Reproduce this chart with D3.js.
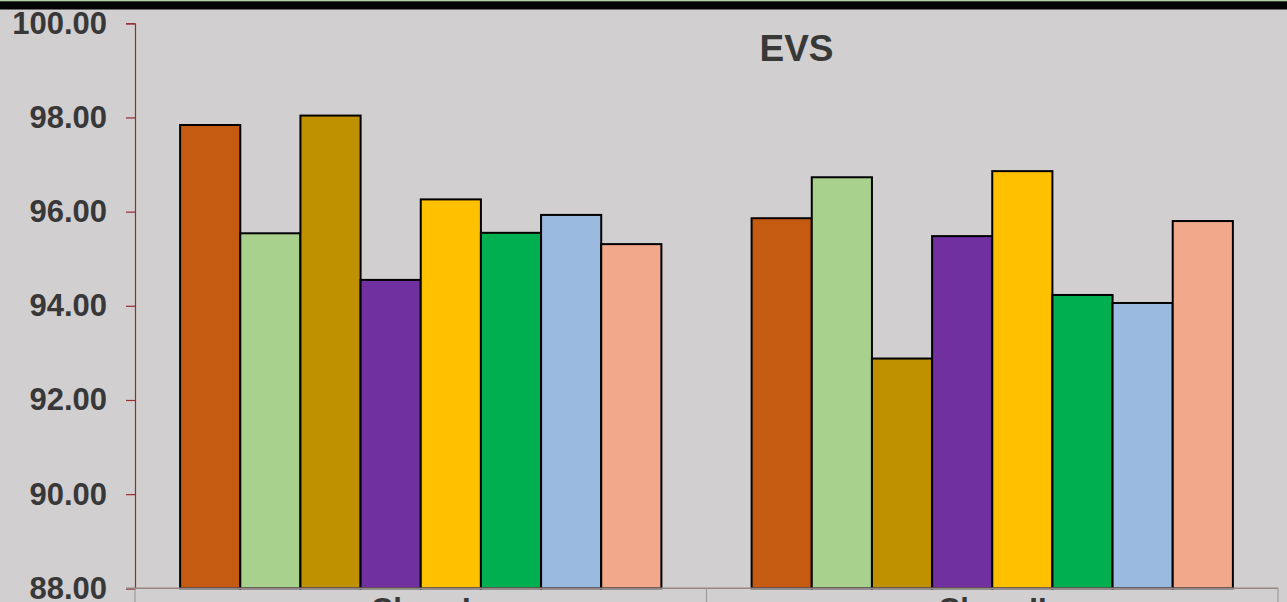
<!DOCTYPE html>
<html>
<head>
<meta charset="utf-8">
<script src="https://cdn.jsdelivr.net/npm/d3@7/dist/d3.min.js"></script>
<style>
  html, body { margin: 0; padding: 0; background: #d1cfd0; overflow: hidden; }
  svg { display: block; }
</style>
</head>
<body>
<svg id="chart" width="1287" height="602"></svg>
<script>
// ---- data ----
const categories = ["Class I", "Class II"];
const seriesNames = ["S1", "S2", "S3", "S4", "S5", "S6", "S7", "S8"];
const seriesColors = ["#c55a11", "#a9d18e", "#bf9000", "#7030a0", "#ffc000", "#00b050", "#9bbae0", "#f2a88b"];
const classIValues  = [97.84, 95.54, 98.04, 94.55, 96.26, 95.55, 95.93, 95.31];
const classIIValues = [95.86, 96.73, 92.88, 95.48, 96.86, 94.23, 94.06, 95.80];
const yTicks = [88, 90, 92, 94, 96, 98, 100];
const titleText = "EVS";

const values = [classIValues, classIIValues];

const svg = d3.select("#chart");
const W = 1287, H = 602;

// background + top strip
svg.append("rect").attr("width", W).attr("height", H).attr("fill", "#d1cfd0");
svg.append("rect").attr("x", 0).attr("y", 0).attr("width", W).attr("height", 1.3).attr("fill", "#b4d39c");
svg.append("rect").attr("x", 0).attr("y", 1.3).attr("width", W).attr("height", 7.7).attr("fill", "#050505");
svg.append("rect").attr("x", 0).attr("y", 9).attr("width", W).attr("height", 1).attr("fill", "#6a6a6a");

const plotLeft = 135, plotRight = 1278, plotTop = 23.3, plotBottom = 588.3;

const y = d3.scaleLinear().domain([88, 100]).range([plotBottom, plotTop]);
const x0 = d3.scaleBand().domain(categories).range([plotLeft, plotRight]).paddingInner(0).paddingOuter(0);
const x1 = d3.scaleBand().domain(seriesNames).range([0, x0.bandwidth()]).paddingInner(0).paddingOuter(0.75);

// bars
const groups = svg.append("g").selectAll("g").data(categories).join("g")
  .attr("transform", c => `translate(${x0(c)},0)`);

groups.each(function(c, ci) {
  d3.select(this).selectAll("rect")
    .data(seriesNames.map((s, i) => ({ s, v: values[ci][i], color: seriesColors[i] })))
    .join("rect")
    .attr("x", d => x1(d.s))
    .attr("y", d => y(d.v))
    .attr("width", x1.bandwidth())
    .attr("height", d => y(88) - y(d.v))
    .attr("fill", d => d.color)
    .attr("stroke", "#000")
    .attr("stroke-width", 2);
});

// y axis
const yAxis = d3.axisLeft(y).tickValues(yTicks).tickFormat(d3.format(".2f")).tickSize(9).tickPadding(19);
const yg = svg.append("g").attr("transform", `translate(${plotLeft},0)`).call(yAxis);
yg.select(".domain").attr("stroke", "#9b2a2a").attr("stroke-width", 1.2);
yg.selectAll(".tick line").attr("stroke", "#9b2a2a").attr("stroke-width", 1.2);
yg.selectAll(".tick text")
  .attr("fill", "#383838")
  .style("font-family", "'Liberation Sans', Arial, sans-serif")
  .style("font-weight", "bold")
  .style("font-size", "31px");

// x axis line
svg.append("line").attr("x1", plotLeft - 9).attr("x2", plotRight).attr("y1", plotBottom).attr("y2", plotBottom)
  .attr("stroke", "#9a8585").attr("stroke-width", 1.5);

// category separators
const seps = categories.map(c => x0(c)).concat([x0.range()[1]]);
svg.append("g").selectAll("line").data(seps).join("line")
  .attr("x1", d => d).attr("x2", d => d)
  .attr("y1", plotBottom).attr("y2", H)
  .attr("stroke", "#9c9c9c").attr("stroke-width", 1.2);

// category labels
svg.append("g").selectAll("text").data(categories).join("text")
  .attr("x", c => x0(c) + x0.bandwidth() / 2)
  .attr("y", 620)
  .attr("text-anchor", "middle")
  .attr("fill", "#383838")
  .style("font-family", "'Liberation Sans', Arial, sans-serif")
  .style("font-weight", "bold")
  .style("font-size", "31px")
  .text(c => c);

// title
svg.append("text")
  .attr("x", 796.5).attr("y", 60.7)
  .attr("text-anchor", "middle")
  .attr("fill", "#383838")
  .style("font-family", "'Liberation Sans', Arial, sans-serif")
  .style("font-weight", "bold")
  .style("font-size", "37px")
  .text(titleText);
</script>
</body>
</html>
